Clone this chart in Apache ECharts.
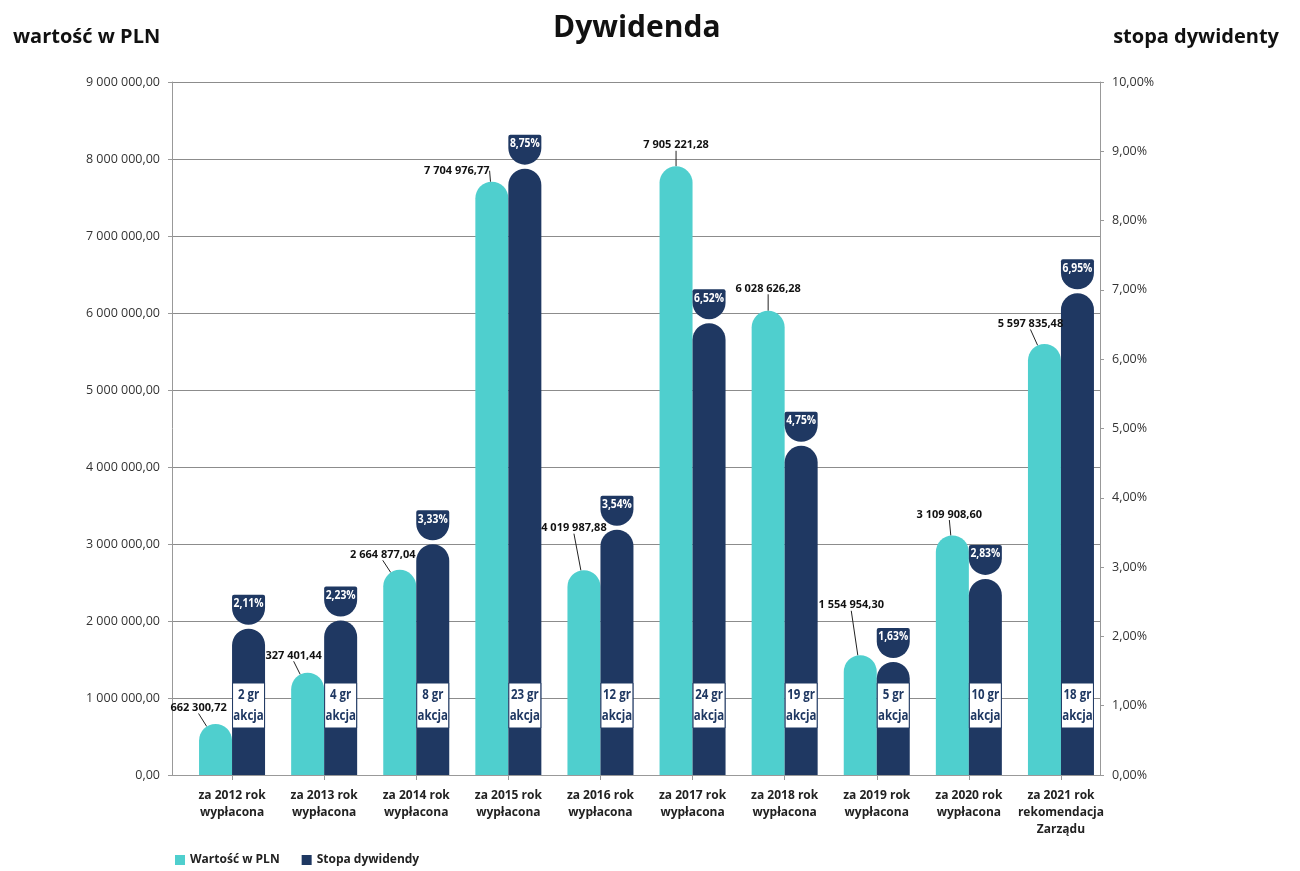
<!DOCTYPE html>
<html><head><meta charset="utf-8">
<script src="https://cdn.jsdelivr.net/npm/echarts@6/dist/echarts.min.js"></script>
<style>html,body{margin:0;padding:0;background:#fff}#c{width:1300px;height:871px}</style>
</head><body><div id="c"></div>
<script>
const categories = ['za 2012 rok\nwypłacona','za 2013 rok\nwypłacona','za 2014 rok\nwypłacona','za 2015 rok\nwypłacona','za 2016 rok\nwypłacona','za 2017 rok\nwypłacona','za 2018 rok\nwypłacona','za 2019 rok\nwypłacona','za 2020 rok\nwypłacona','za 2021 rok\nrekomendacja\nZarządu'];
const valuePLN = [662300.72, 1327401.44, 2664877.04, 7704976.77, 2660000, 7905221.28, 6028626.28, 1554954.30, 3109908.60, 5597835.48];
const valueLabels = ['662 300,72','327 401,44','2 664 877,04','7 704 976,77','4 019 987,88','7 905 221,28','6 028 626,28','1 554 954,30','3 109 908,60','5 597 835,48'];
const dividendRate = [2.11, 2.23, 3.33, 8.75, 3.54, 6.52, 4.75, 1.63, 2.83, 6.95];
const groszePerShare = [2, 4, 8, 23, 12, 24, 19, 5, 10, 18];
const leftTicks = [0, 9000000, 1000000];
const rightTicks = [0, 10, 1];

// label layout offsets (style only)
const lblDx = [-17,-14,-17,-35,-10,0,0,-9,-3,-14];
const lblDy = [16,17,15,11,42,21,22,50,21,20];

const TEAL = '#4fcfce', NAVY = '#1f3862', FONT = 'Open Sans';
const BW = 33;

function fmtPLN(v){
  const s = Math.round(v).toString().replace(/\B(?=(\d{3})+(?!\d))/g,' ');
  return s + ',00';
}
function fmtPct(v){ return v.toFixed(2).replace('.', ',') + '%'; }

const chart = echarts.init(document.getElementById('c'));
chart.setOption({
  animation:false,
  backgroundColor:'#fff',
  textStyle:{fontFamily:FONT},
  title:[
    {text:'Dywidenda', left:548, top:8, textStyle:{fontFamily:FONT,fontSize:30,fontWeight:'bold',color:'#111'}},
    {text:'wartość w PLN', left:8, top:22, textStyle:{fontFamily:FONT,fontSize:20,fontWeight:'bold',color:'#111'}},
    {text:'stopa dywidenty', right:16, top:22, textStyle:{fontFamily:FONT,fontSize:20,fontWeight:'bold',color:'#111'}}
  ],
  legend:{
    data:['Wartość w PLN','Stopa dywidendy'],
    left:170, bottom:0, itemWidth:10, itemHeight:10, itemGap:22, icon:'rect',
    textStyle:{fontFamily:FONT,fontSize:12,fontWeight:'bold',color:'#222'}
  },
  grid:[
    {left:172, right:200, top:82, bottom:96},
    {left:186, right:193, top:82, bottom:96}
  ],
  xAxis:[
    {gridIndex:0, type:'value', min:0, max:1, axisLine:{show:true,lineStyle:{color:'#999'}}, axisTick:{show:false}, axisLabel:{show:false}, splitLine:{show:false}},
    {gridIndex:1, type:'category', data:categories,
     axisLine:{show:false}, axisTick:{show:true, alignWithLabel:true, length:5, lineStyle:{color:'#999'}},
     axisLabel:{fontFamily:FONT, fontSize:12, fontWeight:'bold', color:'#222', lineHeight:17, margin:12, interval:0}}
  ],
  yAxis:[
    {gridIndex:0, type:'value', min:leftTicks[0], max:leftTicks[1], interval:leftTicks[2], position:'left',
     axisLine:{show:true,lineStyle:{color:'#999'}}, axisTick:{show:true,length:4,lineStyle:{color:'#999'}},
     axisLabel:{formatter:fmtPLN, fontFamily:FONT, fontSize:12.5, color:'#333', margin:12},
     splitLine:{show:true, lineStyle:{color:'#8c8c8c', width:1}}},
    {gridIndex:0, type:'value', min:rightTicks[0], max:rightTicks[1], interval:rightTicks[2], position:'right',
     axisLine:{show:true,lineStyle:{color:'#999'}}, axisTick:{show:true,length:4,lineStyle:{color:'#999'}},
     axisLabel:{formatter:fmtPct, fontFamily:FONT, fontSize:12.5, color:'#333', margin:12},
     splitLine:{show:false}},
    {gridIndex:1, type:'value', min:leftTicks[0], max:leftTicks[1], interval:leftTicks[2], show:false, splitLine:{show:false}},
    {gridIndex:1, type:'value', min:rightTicks[0], max:rightTicks[1], interval:rightTicks[2], show:false, splitLine:{show:false}}
  ],
  series:[
    {name:'Wartość w PLN', type:'bar', xAxisIndex:1, yAxisIndex:2, barWidth:BW, barGap:'0%',
     itemStyle:{color:TEAL, borderRadius:[16.5,16.5,0,0]},
     data:valuePLN,
     label:{show:true, position:'top', formatter:p=>valueLabels[p.dataIndex],
            fontFamily:FONT, fontSize:11, fontWeight:'bold', color:'#111'},
     labelLine:{show:true, lineStyle:{color:'#222', width:1}},
     labelLayout:function(p){
       const i = p.dataIndex;
       return {x: p.rect.x + p.rect.width/2 + lblDx[i], y: p.rect.y - lblDy[i], align:'center', verticalAlign:'middle'};
     },
     z:2},
    {name:'Stopa dywidendy', type:'bar', xAxisIndex:1, yAxisIndex:3, barWidth:BW, barGap:'0%',
     itemStyle:{color:NAVY, borderRadius:[16.5,16.5,0,0]},
     data:dividendRate,
     z:2},
    {name:'badge', type:'custom', xAxisIndex:1, yAxisIndex:3, z:5,
     data:dividendRate.map((r,i)=>[i,r]),
     encode:{x:0, y:1},
     renderItem:function(params, api){
       const pt = api.coord([api.value(0), api.value(1)]);
       const base = api.coord([api.value(0), 0]);
       const x0 = base[0], yt = pt[1];
       return {type:'group', children:[
         {type:'rect', shape:{x:x0, y:yt-34, width:BW, height:30, r:[2,2,16.5,16.5]}, style:{fill:NAVY}},
         {type:'text', x:x0+BW/2, y:yt-25, scaleX:0.86,
          style:{text:fmtPct(api.value(1)), x:0, y:0, align:'center', verticalAlign:'middle',
           fill:'#fff', fontFamily:FONT, fontSize:12, fontWeight:'bold'}}
       ]};
     }},
    {name:'akcja', type:'custom', xAxisIndex:1, yAxisIndex:2, z:5,
     data:groszePerShare.map((g,i)=>[i,g]),
     encode:{x:0},
     renderItem:function(params, api){
       const pt = api.coord([api.value(0), 0]);
       const x0 = pt[0] + 0.5, yb = pt[1];
       const cx = x0 + (BW-1)/2;
       return {type:'group', children:[
         {type:'rect', shape:{x:x0, y:yb-92, width:BW-1, height:45}, style:{fill:'#fff', stroke:NAVY, lineWidth:1}},
         {type:'text', x:cx, y:yb-69.5, scaleX:0.82,
          style:{text:api.value(1)+' gr\nakcja', x:0, y:0, align:'center', verticalAlign:'middle',
           fill:NAVY, fontFamily:FONT, fontSize:14, fontWeight:'bold', lineHeight:21}}
       ]};
     }}
  ]
});
</script></body></html>
